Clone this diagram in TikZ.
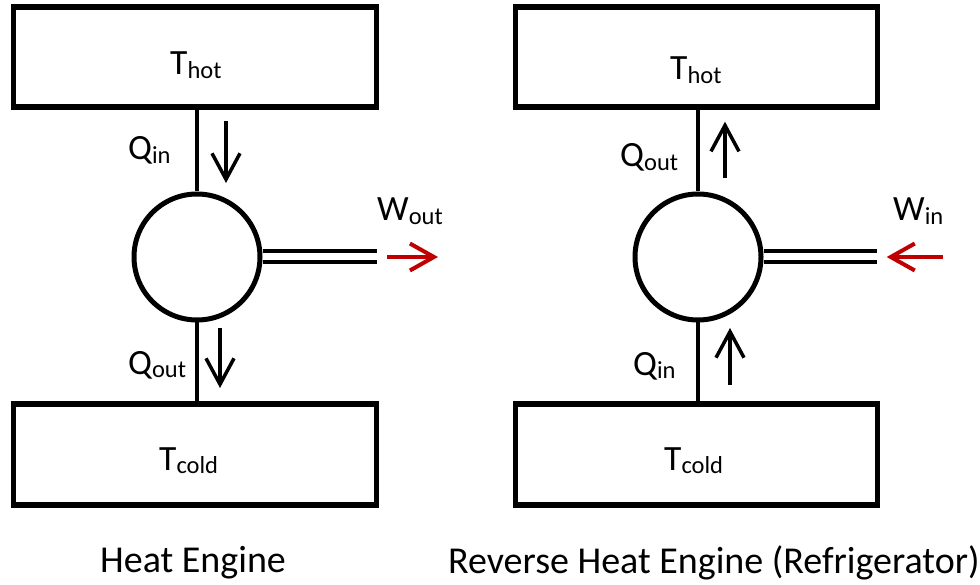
\documentclass[tikz,border=0pt]{standalone}
\usepackage{fontspec}
\setmainfont{Carlito}
\usetikzlibrary{arrows.meta}
\definecolor{wred}{HTML}{C00000}
\newcommand{\qsym}[2]{{\fontsize{35.5}{40}\selectfont #1}\raisebox{-3.5pt}{\fontsize{24.5}{28}\selectfont #2}}
\begin{document}
\begin{tikzpicture}[x=1pt,y=-1pt,
  reservoir/.style={draw, rectangle, line width=5.5pt, minimum width=363pt, inner sep=0pt},
  engine/.style={draw, circle, line width=5pt, minimum size=126pt, inner sep=0pt},
  wire/.style={line width=4.5pt},
  rod/.style={line width=4pt},
  flow/.style={line width=3.5pt, -{Straight Barb[length=26pt,width=28pt]}},
  work/.style={line width=4pt, wred, -{Straight Barb[length=24pt,width=27pt]}},
  lbl/.style={anchor=base west, inner sep=0pt},
  titletext/.style={anchor=base west, inner sep=0pt, font=\fontsize{38}{44}\selectfont}]
\useasboundingbox[fill=white] (0,0) rectangle (980,585);

% ---------- Heat engine ----------
\node[reservoir, minimum height=100pt] (hotL) at (195,57) {};
\node[reservoir, minimum height=101pt] (coldL) at (195,454.3) {};
\node[engine] (engL) at (197,257) {};
\draw[wire] (engL.north) -- (engL.north |- hotL.south);
\draw[wire] (engL.south) -- (engL.south |- coldL.north);
\coordinate (rodLa) at (377,251);
\coordinate (rodLb) at (377,262);
\draw[rod] (engL.east |- rodLa) -- (rodLa);
\draw[rod] (engL.east |- rodLb) -- (rodLb);

\coordinate (qinLs) at (226,121);  \coordinate (qinLe) at (226,183);
\coordinate (qoutLs) at (220,328); \coordinate (qoutLe) at (220,388);
\draw[flow] (qinLs) -- (qinLe);
\draw[flow] (qoutLs) -- (qoutLe);
\coordinate (woutLs) at (387,257); \coordinate (woutLe) at (438,257);
\draw[work] (woutLs) -- (woutLe);

\node[lbl] (thotL) at (170,75) {\qsym{T}{hot}};
\node[lbl] (tcoldL) at (159,470) {\qsym{T}{cold}};
\node[lbl] (qinL) at (128,160) {\qsym{Q}{in}};
\node[lbl] (qoutL) at (128,374) {\qsym{Q}{out}};
\node[lbl] (woutL) at (377,220.7) {\qsym{W}{out}};
\node[titletext] (capL) at (100,572) {Heat Engine};

% ---------- Reverse heat engine ----------
\node[reservoir, minimum width=362pt, minimum height=100pt] (hotR) at (696.5,57) {};
\node[reservoir, minimum width=362pt, minimum height=101pt] (coldR) at (696.5,454.3) {};
\node[engine] (engR) at (698,257) {};
\draw[wire] (engR.north) -- (engR.north |- hotR.south);
\draw[wire] (engR.south) -- (engR.south |- coldR.north);
\coordinate (rodRa) at (877,251);
\coordinate (rodRb) at (877,262);
\draw[rod] (engR.east |- rodRa) -- (rodRa);
\draw[rod] (engR.east |- rodRb) -- (rodRb);

\coordinate (qoutRs) at (725,178); \coordinate (qoutRe) at (725,121.7);
\coordinate (qinRs) at (730,385);  \coordinate (qinRe) at (730,328);
\draw[flow] (qoutRs) -- (qoutRe);
\draw[flow] (qinRs) -- (qinRe);
\coordinate (winRs) at (943,257); \coordinate (winRe) at (886.7,257);
\draw[work] (winRs) -- (winRe);

\node[lbl] (thotR) at (670,80) {\qsym{T}{hot}};
\node[lbl] (tcoldR) at (664,470) {\qsym{T}{cold}};
\node[lbl] (qoutR) at (620,166.7) {\qsym{Q}{out}};
\node[lbl] (qinR) at (633,375) {\qsym{Q}{in}};
\node[lbl] (winR) at (893,220.7) {\qsym{W}{in}};
\node[titletext] (capR) at (448,573) {Reverse Heat Engine (Refrigerator)};
\end{tikzpicture}
\end{document}
